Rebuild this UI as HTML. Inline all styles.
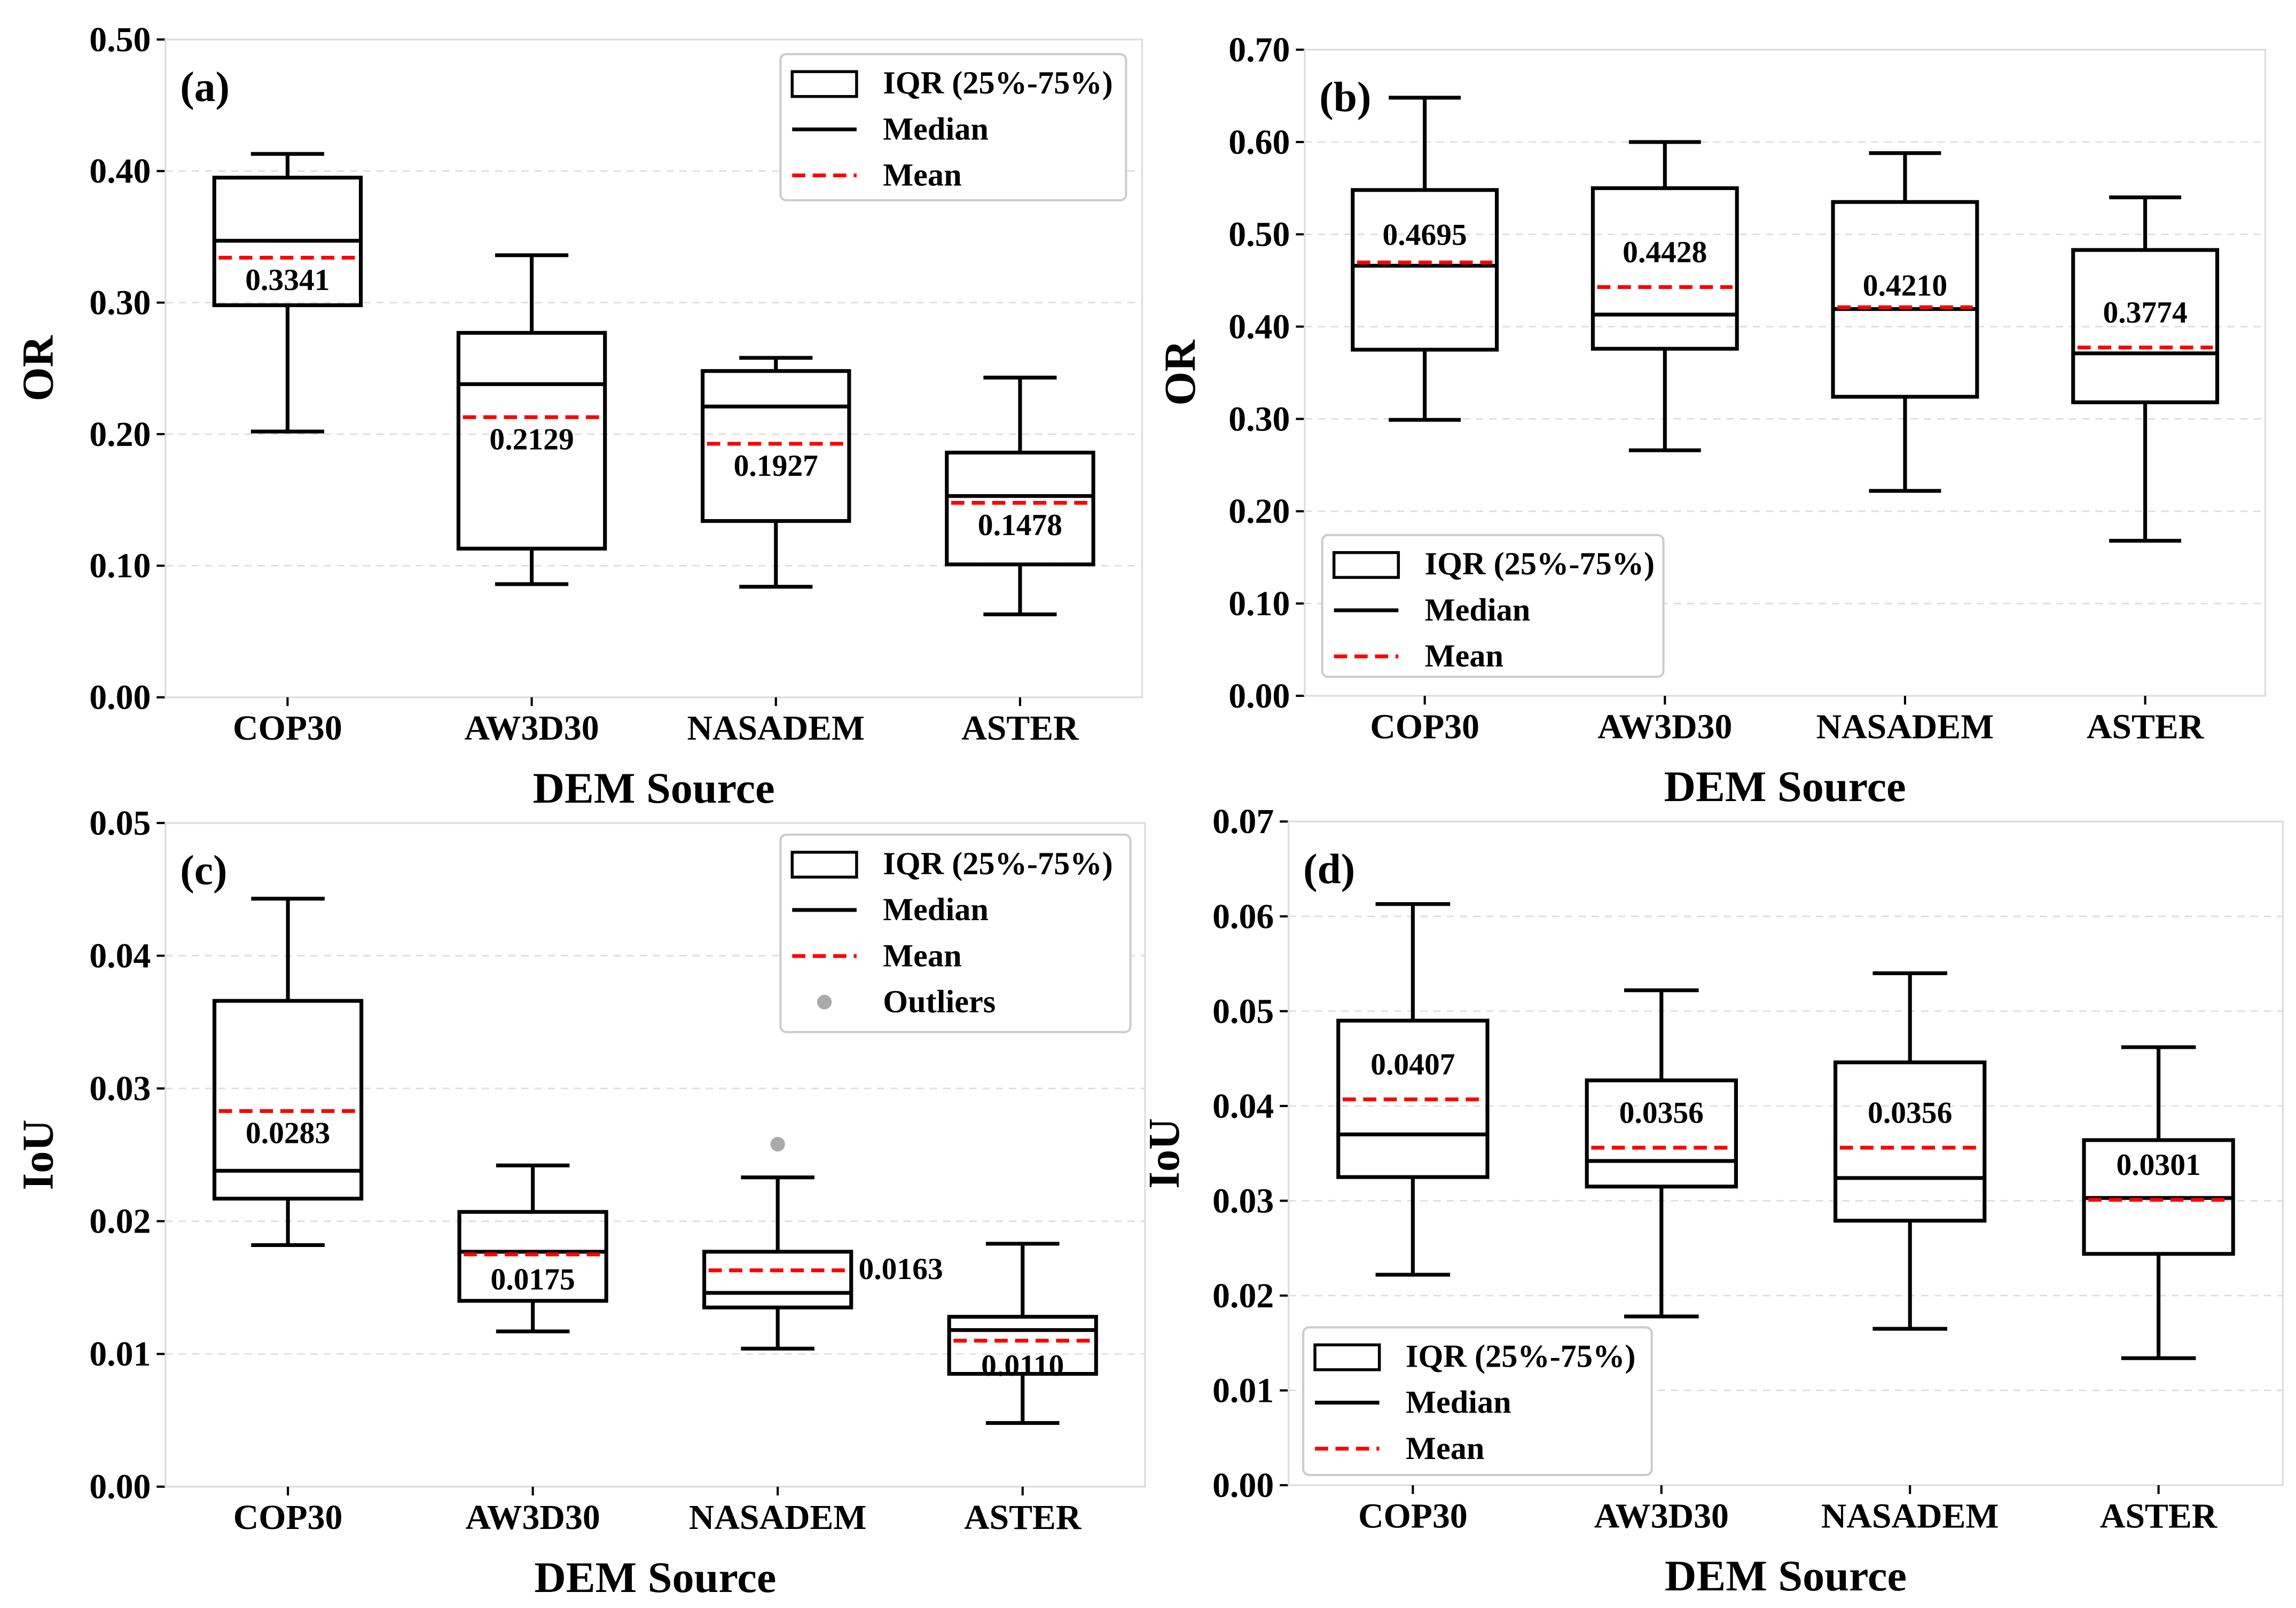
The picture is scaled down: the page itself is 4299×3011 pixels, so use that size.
<!DOCTYPE html>
<html><head><meta charset="utf-8">
<style>
html,body{margin:0;padding:0;background:#fff;}
svg{display:block;}
text{font-family:"Liberation Serif",serif;font-weight:bold;fill:#000;}
</style></head>
<body>
<svg id="fig" width="4299" height="3011" viewBox="0 0 1568 1100" preserveAspectRatio="none" xmlns="http://www.w3.org/2000/svg"></svg>
<script>
const categories = ["COP30","AW3D30","NASADEM","ASTER"];
// Panel (a) OR
const aLo=[0.202,0.086,0.084,0.063], aQ1=[0.298,0.113,0.134,0.101], aMed=[0.347,0.238,0.221,0.153], aQ3=[0.395,0.277,0.248,0.186], aHi=[0.413,0.336,0.258,0.243], aMean=[0.3341,0.2129,0.1927,0.1478];
const aTicks=["0.00","0.10","0.20","0.30","0.40","0.50"];
// Panel (b) OR
const bLo=[0.299,0.266,0.222,0.168], bQ1=[0.375,0.376,0.324,0.318], bMed=[0.466,0.413,0.419,0.371], bQ3=[0.548,0.550,0.535,0.483], bHi=[0.648,0.600,0.588,0.540], bMean=[0.4695,0.4428,0.4210,0.3774];
const bTicks=["0.00","0.10","0.20","0.30","0.40","0.50","0.60","0.70"];
// Panel (c) IoU
const cLo=[0.0182,0.0117,0.0104,0.0048], cQ1=[0.0217,0.0140,0.0135,0.0085], cMed=[0.0238,0.0177,0.0146,0.0118], cQ3=[0.0366,0.0207,0.0177,0.0128], cHi=[0.0443,0.0242,0.0233,0.0183], cMean=[0.0283,0.0175,0.0163,0.0110];
const cOutlierCat=[2], cOutlierVal=[0.0258];
const cTicks=["0.00","0.01","0.02","0.03","0.04","0.05"];
// Panel (d) IoU
const dLo=[0.0222,0.0178,0.0165,0.0134], dQ1=[0.0325,0.0315,0.0279,0.0244], dMed=[0.0370,0.0342,0.0324,0.0303], dQ3=[0.0490,0.0427,0.0446,0.0364], dHi=[0.0613,0.0522,0.0540,0.0462], dMean=[0.0407,0.0356,0.0356,0.0301];
const dTicks=["0.00","0.01","0.02","0.03","0.04","0.05","0.06","0.07"];

const NS="http://www.w3.org/2000/svg";
const svg=document.getElementById('fig');
function el(tag,attrs,parent,txt){const e=document.createElementNS(NS,tag);for(const k in attrs)e.setAttribute(k,attrs[k]);if(txt!==undefined)e.textContent=txt;(parent||svg).appendChild(e);return e;}

function panel(o){
  const g=el('g',{});
  
  
  const ymax=parseFloat(o.ticks[o.ticks.length-1]);
  const y=v=>o.b-(v/ymax)*(o.b-o.t);
  const x=i=>o.l+(i+0.5)*(o.r-o.l)/4;
  const bw=0.6*(o.r-o.l)/4;
  o.ticks.forEach(t=>{const yy=y(parseFloat(t));
    const gl=el('line',{x1:o.l,x2:o.r,y1:yy,y2:yy,stroke:'#ddd','stroke-width':1,'stroke-dasharray':'5,4'},g);
    
    
    const tk=el('line',{x1:o.l-6,x2:o.l,y1:yy,y2:yy,stroke:'#000','stroke-width':1.5},g);
    
    
    const tl=el('text',{x:o.l-10,y:yy+8,'text-anchor':'end','font-size':24},g,t);
    
    
  });
  const fr=el('rect',{x:o.l,y:o.t,width:o.r-o.l,height:o.b-o.t,fill:'none',stroke:'#ddd','stroke-width':1.2},g);
  
  
  categories.forEach((c,i)=>{
    const cx=x(i);
    const tk=el('line',{x1:cx,x2:cx,y1:o.b,y2:o.b+6,stroke:'#000','stroke-width':1.5},g);
    
    
    const tl=el('text',{x:cx,y:o.b+29,'text-anchor':'middle','font-size':24},g,c);
    
    
    const bg=el('g',{},g);
    
    
    const sw=2.6;
    el('line',{x1:cx,x2:cx,y1:y(o.hi[i]),y2:y(o.q3[i]),stroke:'#000','stroke-width':sw},bg);
    el('line',{x1:cx,x2:cx,y1:y(o.q1[i]),y2:y(o.lo[i]),stroke:'#000','stroke-width':sw},bg);
    el('line',{x1:cx-bw/4,x2:cx+bw/4,y1:y(o.hi[i]),y2:y(o.hi[i]),stroke:'#000','stroke-width':sw},bg);
    el('line',{x1:cx-bw/4,x2:cx+bw/4,y1:y(o.lo[i]),y2:y(o.lo[i]),stroke:'#000','stroke-width':sw},bg);
    el('rect',{x:cx-bw/2,y:y(o.q3[i]),width:bw,height:y(o.q1[i])-y(o.q3[i]),fill:'none',stroke:'#000','stroke-width':sw},bg);
    el('line',{x1:cx-bw/2,x2:cx+bw/2,y1:y(o.med[i]),y2:y(o.med[i]),stroke:'#000','stroke-width':sw},bg);
    el('line',{x1:cx-bw/2+3,x2:cx+bw/2-3,y1:y(o.mean[i]),y2:y(o.mean[i]),stroke:'#f00','stroke-width':2.6,'stroke-dasharray':'9,5'},bg);
    const off=o.lblOff[i];
    const ml=el('text',{x:off.side?cx+bw/2+5:cx,y:y(o.mean[i])+off.dy,'text-anchor':off.side?'start':'middle','font-size':21},bg,o.mean[i].toFixed(4));
    
    
  });
  if(o.outCat){o.outCat.forEach((ci,k)=>{
    const p=el('circle',{cx:x(ci),cy:y(o.outVal[k]),r:5,fill:'#aaa'},g);
    
    
  });}
  const pl=el('text',{x:o.l+10,y:o.t+42,'font-size':29},g,'('+o.id+')');
  
  
  const yt=el('text',{x:0,y:0,'font-size':30,'text-anchor':'middle',transform:`translate(${o.yl},${(o.t+o.b)/2}) rotate(-90)`},g,o.ylabel);
  
  
  const xt=el('text',{x:(o.l+o.r)/2,y:o.b+72,'font-size':30,'text-anchor':'middle'},g,'DEM Source');
  
  
  const L=o.leg;
  const lg=el('g',{},g);
  
  
  el('rect',{x:L.x,y:L.y,width:L.w,height:L.h,rx:4,fill:'#fff',stroke:'#ccc','stroke-width':1.5},lg);
  const items=['IQR (25%-75%)','Median','Mean'].concat(L.out?['Outliers']:[]);
  items.forEach((t,k)=>{
    const yy=L.y+20+k*31.5;
    if(k===0) el('rect',{x:L.x+8,y:yy-8,width:44,height:17,fill:'none',stroke:'#000','stroke-width':2},lg);
    if(k===1) el('line',{x1:L.x+8,x2:L.x+52,y1:yy,y2:yy,stroke:'#000','stroke-width':2.6},lg);
    if(k===2) el('line',{x1:L.x+8,x2:L.x+52,y1:yy,y2:yy,stroke:'#f00','stroke-width':2.6,'stroke-dasharray':'9,5'},lg);
    if(k===3) el('circle',{cx:L.x+30,cy:yy,r:5,fill:'#aaa'},lg);
    const e=el('text',{x:L.x+70,y:yy+7,'font-size':22},lg,t);
    
    
  });
}
const below={dy:22};
panel({id:'a',l:113,r:780,t:27,b:477,ticks:aTicks,lo:aLo,q1:aQ1,med:aMed,q3:aQ3,hi:aHi,mean:aMean,ylabel:'OR',yl:36,
  lblOff:[below,below,below,below],leg:{x:533,y:37,w:236,h:100}});
panel({id:'b',l:891,r:1547,t:34,b:476,ticks:bTicks,lo:bLo,q1:bQ1,med:bMed,q3:bQ3,hi:bHi,mean:bMean,ylabel:'OR',yl:816,
  lblOff:[{dy:-12},{dy:-17},{dy:-8},{dy:-17}],leg:{x:903,y:366,w:233,h:97}});
panel({id:'c',l:113,r:782,t:563,b:1017,ticks:cTicks,lo:cLo,q1:cQ1,med:cMed,q3:cQ3,hi:cHi,mean:cMean,ylabel:'IoU',yl:36,
  outCat:cOutlierCat,outVal:cOutlierVal,
  lblOff:[below,{dy:24},{dy:6,side:true},{dy:24}],leg:{x:533,y:571,w:239,h:135,out:true}});
panel({id:'d',l:880,r:1559,t:562,b:1016,ticks:dTicks,lo:dLo,q1:dQ1,med:dMed,q3:dQ3,hi:dHi,mean:dMean,ylabel:'IoU',yl:805,
  lblOff:[{dy:-17},{dy:-17},{dy:-17},{dy:-17}],leg:{x:890,y:908,w:238,h:101}});
</script>
</body></html>
